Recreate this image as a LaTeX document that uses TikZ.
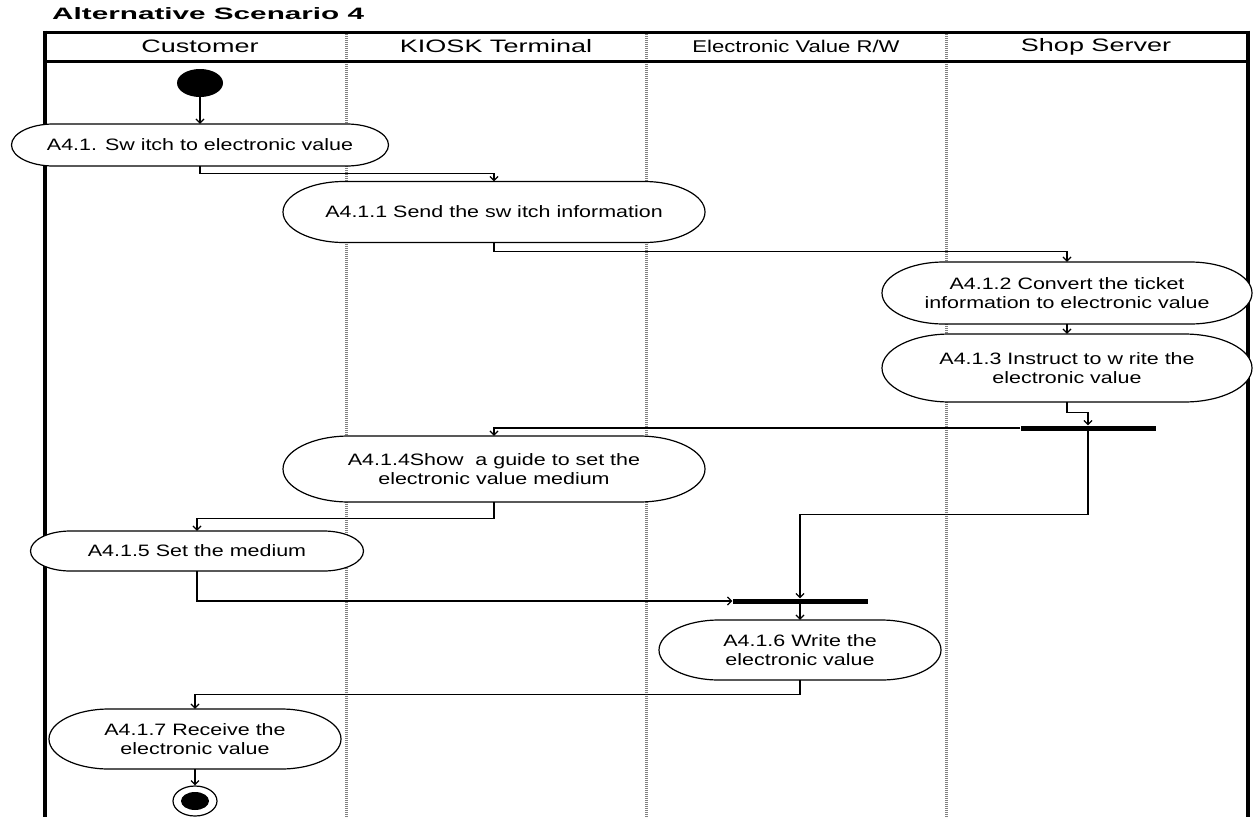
\documentclass[tikz,border=0pt]{standalone}
\usepackage{fontspec}
\setmainfont[FakeStretch=1.3]{Liberation Sans}
\newfontfamily\headfont[FakeStretch=1.5]{Liberation Sans}
\newfontfamily\titlefont[FakeStretch=1.8]{Liberation Sans}
\usetikzlibrary{positioning,arrows.meta,shapes.geometric}

% activity: name, x, y, width, height, text (ends are half ellipses)
\newcommand{\activity}[6]{%
	\draw[actline]({#2-#4/2+#5},{#3-#5/2})--({#2+#4/2-#5},{#3-#5/2})
		arc[start angle=-90,end angle=90,x radius=#5,y radius={#5/2}]
		--({#2-#4/2+#5},{#3+#5/2})
		arc[start angle=90,end angle=270,x radius=#5,y radius={#5/2}]--cycle;
	\node(#1)[act,minimum width=#4pt,minimum height=#5pt] at (#2,#3){#6};
}

\begin{document}
\begin{tikzpicture}[x=1pt,y=-1pt,
			>={Straight Barb[length=4pt,width=8pt]},
			act/.style={
				align=center,
				inner sep=0pt,
				font=\fontsize{16.5}{19}\selectfont
			},
			actline/.style={draw,fill=white,line width=1.2pt},
			bar/.style={fill=black,minimum width=135pt,minimum height=5pt,inner sep=0pt},
			lanehead/.style={font=\headfont\fontsize{18}{20}\selectfont},
			sep/.style={draw=gray,line width=3pt,dash pattern=on 1pt off 1pt},
			flow/.style={->,line width=1.2pt}]
			
			\useasboundingbox (0,0) rectangle (1255,817);
			
			% title and swimlanes
			\node(title)[anchor=west,inner sep=0pt,font=\titlefont\bfseries\fontsize{16.5}{18}\selectfont] at (52,14){Alternative Scenario 4};
			
			\draw[sep](346,32)--(346,817);
			\draw[sep](646,32)--(646,817);
			\draw[sep](946,32)--(946,817);
			
			\draw[line width=3pt](45,32)--(1248,32);
			\draw[line width=3pt](45,61)--(1248,61);
			\draw[line width=4pt](45,30.5)--(45,817);
			\draw[line width=4pt](1248,30.5)--(1248,817);
			
			\node(customer)[lanehead] at (200,46.5){Customer};
			\node(kiosk)[lanehead] at (496,46.5){KIOSK Terminal};
			\node(evrw)[font=\fontsize{17}{19}\selectfont] at (796,46.5){Electronic Value R/W};
			\node(shop)[lanehead] at (1096,46.5){Shop Server};
			
			% activities
			\node(start)[ellipse,fill=black,minimum width=46pt,minimum height=28pt,inner sep=0pt] at (200,83){};
			
			\activity{a41}{200}{145}{377}{42}{A4.1. Sw itch to electronic value}
			
			\activity{a411}{494}{212}{422}{61}{A4.1.1 Send the sw itch information}
			
			\activity{a412}{1067}{293}{370}{62}{A4.1.2 Convert the ticket\\information to electronic value}
			
			\activity{a413}{1067}{368}{370}{68}{A4.1.3 Instruct to w rite the\\electronic value}
			
			\node(bar1)[bar] at (1088,428){};
			
			\activity{a414}{494}{469}{422}{66}{A4.1.4Show\ \ a guide to set the\\electronic value medium}
			
			\activity{a415}{197}{551}{333}{40}{A4.1.5 Set the medium}
			
			\node(bar2)[bar] at (800,601){};
			
			\activity{a416}{800}{650}{282}{60}{A4.1.6 Write the\\electronic value}
			
			\activity{a417}{195}{739}{292}{60}{A4.1.7 Receive the\\electronic value}
			
			\node(end)[ellipse,draw,line width=1.2pt,minimum width=44pt,minimum height=30pt] at (195,801){};
			\node(endin)[ellipse,fill=black,minimum width=28pt,minimum height=18pt,inner sep=0pt] at (end.center){};
			
			% flows
			\draw[flow](start)--(a41);
			
			\draw[flow](a41.south)--++(0,7)-|(a411.north);
			
			\draw[flow](a411.south)--++(0,9)-|(a412.north);
			
			\draw[flow](a412)--(a413);
			
			\draw[flow](a413.south)--++(0,10)-|(bar1.north);
			
			\draw[flow](bar1.west)-|(a414.north);
			
			\draw[flow](bar1.south)--++(0,84)-|(bar2.north);
			
			\draw[flow](a414.south)--++(0,16)-|(a415.north);
			
			\draw[flow](a415.south)|-(bar2.west);
			
			\draw[flow](bar2)--(a416);
			
			\draw[flow](a416.south)--++(0,14)-|(a417.north);
			
			\draw[flow](a417)--(end);
			
		\end{tikzpicture}
\end{document}
